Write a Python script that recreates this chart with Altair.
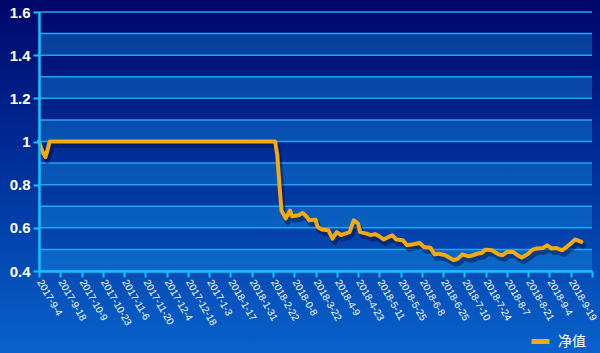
import json
import altair as alt
import pandas as pd

# ---- data ----
x_labels = ["2017-9-4", "2017-9-18", "2017-10-9", "2017-10-23", "2017-11-6",
            "2017-11-20", "2017-12-4", "2017-12-18", "2017-1-3", "2018-1-17",
            "2018-1-31", "2018-2-22", "2018-0-8", "2018-3-22", "2018-4-9",
            "2018-4-23", "2018-5-11", "2018-5-25", "2018-6-8", "2018-6-25",
            "2018-7-10", "2018-7-24", "2018-8-7", "2018-8-21", "2018-9-4",
            "2018-9-19"]
x_ticks = list(range(0, 261, 10))

day_index = [0, 1, 2, 3, 4, 5, 111, 112, 113, 114, 116, 118, 119, 122, 124, 126,
             127, 130, 131, 133, 136, 138, 140, 142, 144, 146, 148, 150, 151,
             154, 156, 158, 160, 162, 166, 168, 171, 173, 176, 179, 181, 184,
             186, 188, 191, 195, 197, 199, 202, 204, 206, 208, 210, 213, 216,
             218, 220, 223, 225, 227, 230, 232, 234, 237, 239, 241, 243, 246,
             248, 250, 252, 253, 255]
nav = [1.0, 0.97, 0.945, 0.928, 0.96, 1.0, 1.0, 0.94, 0.806, 0.68, 0.643, 0.68,
       0.654, 0.658, 0.669, 0.65, 0.635, 0.638, 0.604, 0.592, 0.589, 0.55,
       0.58, 0.566, 0.573, 0.58, 0.635, 0.62, 0.58, 0.573, 0.566, 0.571,
       0.561, 0.546, 0.566, 0.546, 0.543, 0.519, 0.524, 0.53, 0.511, 0.508,
       0.477, 0.48, 0.473, 0.45, 0.457, 0.477, 0.468, 0.473, 0.48, 0.483,
       0.499, 0.496, 0.477, 0.473, 0.488, 0.488, 0.473, 0.462, 0.48, 0.499,
       0.504, 0.507, 0.519, 0.504, 0.507, 0.496, 0.511, 0.527, 0.546, 0.543,
       0.535]
series_name = "净值"

y_label_values = [0.4, 0.6, 0.8, 1.0, 1.2, 1.4, 1.6]
grid_values = [0.4, 0.5, 0.6, 0.7, 0.8, 0.9, 1.0, 1.1, 1.2, 1.3, 1.4, 1.5, 1.6]
band_lo = [0.4, 0.6, 0.8, 1.0, 1.2, 1.4]
band_hi = [0.5, 0.7, 0.9, 1.1, 1.3, 1.5]

# ---- styling ----
W, H = 553, 259
PAD = {"left": 39, "top": 12, "right": 8, "bottom": 82}
CYAN = "#12c3ff"
GRID = "#1fa6f2"
LINE = "#f4a90c"

line_df = pd.DataFrame({"i": day_index, "v": nav, "series": series_name})
grid_df = pd.DataFrame({"g": grid_values})
band_df = pd.DataFrame({"lo": band_lo, "hi": band_hi})
bg_df = pd.DataFrame({"k": [0]})

x_scale = alt.Scale(domain=[0, 260], nice=False, zero=False)
y_scale = alt.Scale(domain=[0.4, 1.6], nice=False, zero=False)

x_axis = alt.Axis(values=x_ticks,
                  labelExpr=json.dumps(x_labels, ensure_ascii=False) + "[round(datum.value/10)] || ''",
                  labelAngle=60, labelAlign="left", labelBaseline="middle",
                  labelColor="white", labelFontSize=10, labelFont="Liberation Sans",
                  labelPadding=3, labelOverlap=False, labelFlush=False,
                  tickColor=CYAN, tickSize=6, tickWidth=2,
                  domainColor=CYAN, domainWidth=2.5, grid=False, title=None,
                  zindex=1)
y_axis = alt.Axis(values=y_label_values, format="~g",
                  labelColor="white", labelFontSize=15, labelFontWeight="bold",
                  labelFont="Liberation Sans", labelPadding=3,
                  tickColor=CYAN, tickSize=6, tickWidth=2,
                  domainColor=CYAN, domainWidth=2.5, grid=False, title=None,
                  zindex=1)

bg = alt.Chart(bg_df).mark_rect(
    fill=alt.Gradient(gradient="linear", x1=0, x2=0, y1=0, y2=1,
                      stops=[alt.GradientStop(color="#00066a", offset=0),
                             alt.GradientStop(color="#002e98", offset=0.45),
                             alt.GradientStop(color="#0862cb", offset=1)])
).encode(x=alt.value(-PAD["left"]), x2=alt.value(W + PAD["right"]),
         y=alt.value(-PAD["top"]), y2=alt.value(H + PAD["bottom"]))

bands = alt.Chart(band_df).mark_rect(color="#18a0f0", opacity=0.33).encode(
    x=alt.value(0), x2=alt.value(W),
    y=alt.Y("lo:Q", scale=y_scale, axis=y_axis), y2="hi:Q")

grid = alt.Chart(grid_df).mark_rule(color=GRID, strokeWidth=1.5).encode(
    x=alt.value(0), x2=alt.value(W),
    y=alt.Y("g:Q", scale=y_scale, axis=y_axis))

shadow = alt.Chart(line_df).mark_line(
    color="#000a3c", opacity=0.45, strokeWidth=5, xOffset=2, yOffset=4,
    strokeJoin="round", strokeCap="round"
).encode(x=alt.X("i:Q", scale=x_scale, axis=x_axis),
         y=alt.Y("v:Q", scale=y_scale, axis=y_axis))

line = alt.Chart(line_df).mark_line(
    strokeWidth=4, strokeJoin="round", strokeCap="round"
).encode(
    x=alt.X("i:Q", scale=x_scale, axis=x_axis),
    y=alt.Y("v:Q", scale=y_scale, axis=y_axis),
    color=alt.Color("series:N",
                    scale=alt.Scale(domain=[series_name], range=[LINE]),
                    legend=alt.Legend(orient="none", legendX=490, legendY=318,
                                      title=None, padding=0,
                                      symbolType="stroke", symbolStrokeWidth=5,
                                      symbolSize=324, labelOffset=6,
                                      labelColor="white", labelFontSize=14,
                                      labelFont="Noto Sans CJK SC")),
)

chart = alt.layer(bg, bands, grid, shadow, line).properties(
    width=W, height=H,
    autosize=alt.AutoSizeParams(type="none"),
    padding=PAD,
    background="#0030a0",
).configure_view(stroke="transparent")

chart.save("out.html", embed_options={"renderer": "svg", "actions": False})
